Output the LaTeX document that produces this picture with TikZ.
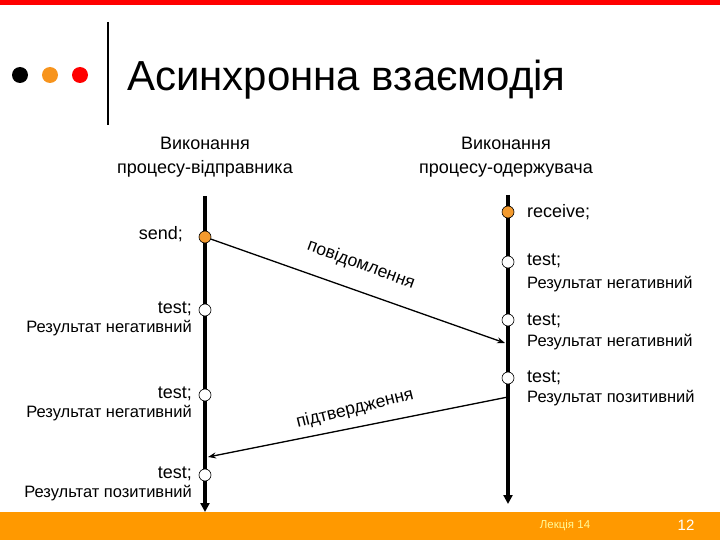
\documentclass[tikz,border=0pt]{standalone}
\usepackage{fontspec}
\setmainfont{Liberation Sans}
\usetikzlibrary{arrows.meta}
\definecolor{barred}{HTML}{FF0000}
\definecolor{barorange}{HTML}{FF9900}
\definecolor{dotorange}{HTML}{F7941D}
\definecolor{evorange}{HTML}{F39A2E}
\tikzset{
  life/.style={line width=3.5pt,-{Triangle[length=9pt,width=9pt]}},
  msg/.style={line width=1.3pt,-{Stealth[length=8pt,width=6pt]}},
  evt/.style={circle,draw=black,line width=0.6pt,fill=white,minimum size=12pt,inner sep=0pt},
  evto/.style={evt,fill=evorange},
  big/.style={font=\fontsize{18}{21}\selectfont,inner sep=0pt},
  small/.style={font=\fontsize{16.5}{19}\selectfont,inner sep=0pt},
  head/.style={font=\fontsize{18}{24}\selectfont,align=center,inner sep=0pt},
  msglab/.style={font=\fontsize{17.5}{20}\selectfont,inner sep=0pt},
  dot/.style={circle,minimum size=16pt,inner sep=0pt}
}
\begin{document}
\begin{tikzpicture}[x=1pt,y=-1pt]
\useasboundingbox (0,0) rectangle (720,540);
% bars
\fill[barred] (0,0) rectangle (720,5);
\fill[barorange] (0,512) rectangle (720,540);
% title decorations
\node[dot,fill=black] (d1) at (20,75) {};
\node[dot,fill=dotorange] (d2) at (50,75) {};
\node[dot,fill=barred] (d3) at (80,75) {};
\draw[line width=2.5pt] (108,22) -- (108,125);
\node[anchor=base west,inner sep=0pt,font=\fontsize{42}{50}\selectfont] (title) at (127,91) {Асинхронна взаємодія};
% headers
\node[head] (h1) at (205,157) {Виконання\\процесу-відправника};
\node[head] (h2) at (506,157) {Виконання\\процесу-одержувача};
% lifelines
\coordinate (Lt) at (205,196);
\coordinate (Lb) at (205,512);
\coordinate (Rt) at (508,195);
\coordinate (Rb) at (508,504);
\draw[life] (Lt) -- (Lb);
\draw[life] (Rt) -- (Rb);
% events left
\node[evto] (send) at (205,237) {};
\node[evt] (lt1) at (205,310) {};
\node[evt] (lt2) at (205,395) {};
\node[evt] (lt3) at (205,475) {};
% events right
\node[evto] (recv) at (508,212) {};
\node[evt] (rt1) at (508,262) {};
\node[evt] (rt2) at (508,320) {};
\node[evt] (rt3) at (508,378) {};
% messages
\coordinate (m1e) at (505,343);
\coordinate (m2s) at (508,397);
\coordinate (m2e) at (208,457);
\draw[msg] (send) -- (m1e);
\draw[msg] (m2s) -- (m2e);
\node[msglab,rotate=-20] (lab1) at (361,265) {повідомлення};
\node[msglab,rotate=14] (lab2) at (355,409) {підтвердження};
% left labels
\node[big,anchor=east] (ls) at (183,234) {send;};
\node[big,anchor=east] (l1) at (192,309) {test;};
\node[small,anchor=east] (l1r) at (192,328) {Результат негативний};
\node[big,anchor=east] (l2) at (192,394) {test;};
\node[small,anchor=east] (l2r) at (192,413) {Результат негативний};
\node[big,anchor=east] (l3) at (192,474) {test;};
\node[small,anchor=east] (l3r) at (192,493) {Результат позитивний};
% right labels
\node[big,anchor=west] (rr) at (527,212) {receive;};
\node[big,anchor=west] (r1) at (527,261) {test;};
\node[small,anchor=west] (r1r) at (527,284) {Результат негативний};
\node[big,anchor=west] (r2) at (527,321) {test;};
\node[small,anchor=west] (r2r) at (527,342) {Результат негативний};
\node[big,anchor=west] (r3) at (527,378) {test;};
\node[small,anchor=west] (r3r) at (527,398) {Результат позитивний};
% footer
\node[font=\fontsize{11.5}{13}\selectfont,text=yellow!40,inner sep=0pt] (lec) at (565,525) {Лекція 14};
\node[font=\fontsize{15}{18}\selectfont,text=white,inner sep=0pt] (pg) at (686,525) {12};
\end{tikzpicture}
\end{document}
